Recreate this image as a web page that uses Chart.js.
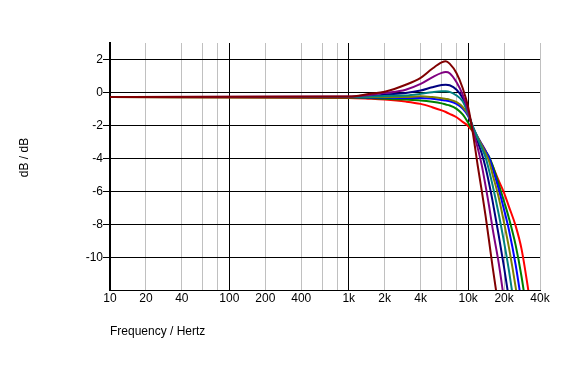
<!DOCTYPE html>
<html>
<head>
<meta charset="utf-8">
<script src="https://cdn.jsdelivr.net/npm/chart.js@4.4.1/dist/chart.umd.min.js"></script>
<style>
html,body{margin:0;padding:0;background:#fff;}
#wrap{width:577px;height:366px;position:relative;}
</style>
</head>
<body>
<div id="wrap"><canvas id="c" width="577" height="366"></canvas></div>
<script>
// Frequencies (Hz) shared by all curves
const freqs = [10, 1000, 1500, 2000, 3000, 4000, 5000, 6000, 6500, 7000, 8000, 9000, 10000, 11000, 12000, 13000, 14000, 15000, 16000, 18000, 20000, 22000, 25000, 28000, 32000, 36000];
// Response values (dB) per curve
const darkRedDb = [-0.25, -0.22, -0.05, 0.08, 0.5, 0.92, 1.47, 1.85, 1.93, 1.78, 1.2, 0.3, -0.85, -2.5, -4.35, -5.92, -7.45, -9.0, -10.5, -13.0, -15.3, -17.5, -20.5, -23.5, -27, -30];
const purpleDb  = [-0.25, -0.22, -0.12, 0.0, 0.2, 0.55, 0.95, 1.22, 1.27, 1.2, 0.65, -0.1, -1.1, -2.3, -3.3, -4.37, -5.63, -6.88, -8.18, -10.27, -12.53, -14.6, -17.5, -20, -23, -26];
const navyDb    = [-0.25, -0.25, -0.2, -0.1, 0.0, 0.15, 0.35, 0.48, 0.5, 0.47, 0.2, -0.3, -1.15, -2.16, -2.94, -3.66, -4.52, -5.5, -6.52, -8.59, -10.57, -12.51, -15.3, -18, -21, -24];
const tealDb    = [-0.25, -0.25, -0.22, -0.18, -0.15, -0.05, 0.05, 0.1, 0.1, 0.07, -0.15, -0.5, -1.25, -2.05, -2.73, -3.33, -3.9, -4.72, -5.56, -7.3, -9.04, -10.78, -13.44, -16, -19, -22];
const oliveDb   = [-0.25, -0.25, -0.25, -0.25, -0.25, -0.2, -0.25, -0.32, -0.36, -0.4, -0.56, -0.85, -1.3, -2.1, -2.67, -3.18, -3.65, -4.15, -4.92, -6.3, -7.86, -9.39, -11.77, -14.2, -17, -20];
const blueDb    = [-0.25, -0.25, -0.27, -0.28, -0.3, -0.3, -0.35, -0.42, -0.46, -0.5, -0.66, -0.95, -1.4, -2.1, -2.65, -3.11, -3.53, -3.92, -4.55, -5.8, -7.07, -8.32, -10.41, -12.71, -15.6, -18.5];
const greenDb   = [-0.25, -0.28, -0.3, -0.35, -0.4, -0.45, -0.53, -0.63, -0.7, -0.76, -0.96, -1.3, -1.8, -2.33, -2.76, -3.16, -3.53, -3.87, -4.37, -5.51, -6.58, -7.6, -9.22, -11.12, -13.94, -16.5];
const redDb     = [-0.25, -0.3, -0.35, -0.4, -0.52, -0.66, -0.86, -1.05, -1.15, -1.26, -1.47, -1.75, -2.0, -2.35, -2.7, -3.1, -3.5, -3.95, -4.4, -5.3, -6.05, -6.9, -8.05, -9.45, -12.0, -14.5];

const seriesNames  = ['s1', 's2', 's3', 's4', 's5', 's6', 's7', 's8'];
const seriesColors = ['#800000', '#800080', '#008080', '#808000', '#0000FF', '#008000', '#FF0000', '#000080'];
const seriesValues = [darkRedDb, purpleDb, tealDb, oliveDb, blueDb, greenDb, redDb, navyDb];

// Axis ticks
const xTicks = [10, 20, 40, 60, 80, 100, 200, 400, 600, 800, 1000, 2000, 4000, 6000, 8000, 10000, 20000, 40000];
const xTickLabels = {10:'10', 20:'20', 40:'40', 100:'100', 200:'200', 400:'400', 1000:'1k', 2000:'2k', 4000:'4k', 10000:'10k', 20000:'20k', 40000:'40k'};
const yTicks = [-10, -8, -6, -4, -2, 0, 2];
const xTitle = 'Frequency / Hertz';
const yTitle = 'dB / dB';

const FONT = {family: 'Arial, "Liberation Sans", sans-serif', size: 12};

const yTitlePlugin = {
  id: 'yTitle',
  afterDraw(chart) {
    const ctx = chart.ctx;
    ctx.save();
    ctx.translate(24.5, 157.5);
    ctx.rotate(-Math.PI / 2);
    ctx.font = '12px Arial, "Liberation Sans", sans-serif';
    ctx.fillStyle = '#000';
    ctx.textAlign = 'center';
    ctx.textBaseline = 'middle';
    ctx.fillText(yTitle, 0, 0);
    ctx.restore();
  }
};

new Chart(document.getElementById('c'), {
  type: 'line',
  data: {
    datasets: seriesValues.map((vals, i) => ({
      label: seriesNames[i],
      data: freqs.map((f, j) => ({x: f, y: vals[j]})),
      borderColor: seriesColors[i],
      backgroundColor: seriesColors[i],
      borderWidth: 2,
      pointRadius: 0,
      cubicInterpolationMode: 'monotone',
      fill: false
    }))
  },
  options: {
    responsive: false,
    animation: false,
    devicePixelRatio: 1,
    layout: {padding: {top: 43, right: 37, left: 0, bottom: 0}},
    plugins: {legend: {display: false}, tooltip: {enabled: false}},
    scales: {
      x: {
        type: 'logarithmic',
        min: 10, max: 40000,
        afterBuildTicks: (s) => { s.ticks = xTicks.map(v => ({value: v})); },
        afterFit: (s) => { s.height = 76; },
        ticks: {
          autoSkip: false, maxRotation: 0, minRotation: 0, padding: 1,
          color: '#000', font: FONT,
          callback: (v) => xTickLabels[v] || ''
        },
        grid: {
          drawTicks: false,
          color: (c) => {
            const v = c.tick ? c.tick.value : 0;
            const l = Math.log10(v);
            return Math.abs(l - Math.round(l)) < 1e-6 ? '#000000' : '#C0C0C0';
          },
          lineWidth: 1
        },
        border: {display: true, color: '#000', width: 1},
        title: {display: true, text: xTitle, align: 'start', color: '#000', font: FONT, padding: {top: 0, bottom: 27}}
      },
      y: {
        type: 'linear',
        min: -11.94, max: 3.03,
        afterBuildTicks: (s) => { s.ticks = yTicks.map(v => ({value: v})); },
        afterFit: (s) => { s.width = 110; },
        ticks: {color: '#000', font: FONT, padding: 0},
        grid: {color: '#000', lineWidth: 1, drawTicks: true, tickLength: 7, tickColor: '#000'},
        border: {display: true, color: '#000', width: 2}
      }
    }
  },
  plugins: [yTitlePlugin]
});
</script>
</body>
</html>
